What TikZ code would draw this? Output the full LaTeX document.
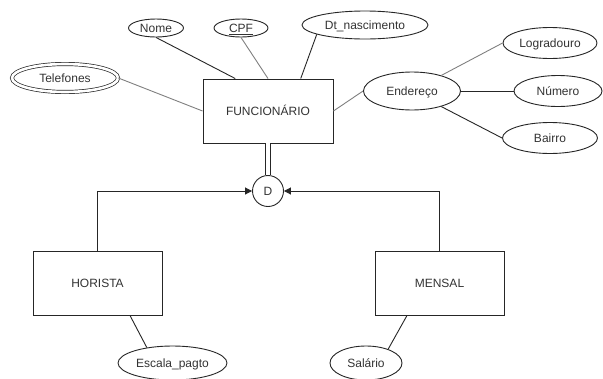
\documentclass[tikz,border=0pt]{standalone}
\usepackage{fontspec}
\setmainfont{Liberation Sans}
\usetikzlibrary{shapes.geometric,arrows.meta,calc}
\begin{document}
\begin{tikzpicture}[x=1pt,y=-1pt,
  font=\fontsize{12}{14}\selectfont,
  every node/.style={text=black!80,text height=8.6pt,text depth=0pt,inner sep=0pt},
  entity/.style={draw=black!85,line width=0.9pt,fill=white,minimum width=129pt,minimum height=64pt},
  attr/.style={ellipse,draw=black!85,line width=0.9pt,fill=white},
  multiattr/.style={ellipse,draw=black!85,line width=0.7pt,double,double distance=2.6pt,fill=white},
  disj/.style={circle,draw=black!85,line width=0.9pt,fill=white,minimum size=31pt},
  link/.style={draw=black!85,line width=0.9pt},
  faint/.style={draw=black!50,line width=0.9pt},
  isa/.style={link,-{Triangle[length=7pt,width=7pt]}},
  total/.style={draw=black!85,line width=0.8pt,double,double distance=3.5pt}
]
\fill[white] (0,0) rectangle (603,378);
\useasboundingbox (0,0) rectangle (603,378);

% entities
\node[entity,minimum width=130pt] (func) at (268,111) {FUNCIONÁRIO};
\node[entity] (hor) at (97.5,283) {HORISTA};
\node[entity] (men) at (439.5,283) {MENSAL};

% attributes of FUNCIONARIO
\node[attr,minimum width=55pt,minimum height=18pt] (nome) at (156,28) {Nome};
\node[attr,minimum width=54pt,minimum height=18pt] (cpf) at (241,28) {\underline{CPF}};
\node[attr,minimum width=126pt,minimum height=28pt] (dt) at (365,25) {Dt\_nascimento};
\node[multiattr,minimum width=106pt,minimum height=28pt] (tel) at (65,78) {Telefones};
\node[attr,minimum width=97pt,minimum height=38pt] (ender) at (412,91) {Endereço};

% components of Endereco
\node[attr,minimum width=94pt,minimum height=31pt] (logr) at (550,43) {Logradouro};
\node[attr,minimum width=88pt,minimum height=31pt] (num) at (558,91) {Número};
\node[attr,minimum width=95pt,minimum height=31pt] (bai) at (550,138) {Bairro};

% specialisation
\node[disj] (d) at (268,191) {D};

% attributes of the subclasses
\node[attr,minimum width=109pt,minimum height=34pt] (esc) at (172.5,363) {Escala\_pagto};
\node[attr,minimum width=72pt,minimum height=34pt] (sal) at (366,363) {Salário};

% connectors
\draw[link] (nome.south) -- ($(func.north west)!0.25!(func.north east)$);
\draw[faint] (cpf.south) -- (func.north);
\draw[link] (dt.191) -- ($(func.north west)!0.75!(func.north east)$);
\draw[faint] (tel.east) -- (func.west);
\draw[faint] (func.east) -- (ender.west);
\draw[faint] (ender.28) -- (logr.west);
\draw[link] (ender.east) -- (num.west);
\draw[link] (ender.-28) -- (bai.west);

\draw[total] (func.south) -- (d.north);
\draw[isa] (hor.north) |- (d.west);
\draw[isa] (men.north) |- (d.east);

\draw[link] ($(hor.south west)!0.75!(hor.south east)$) -- (esc.149);
\draw[link] ($(men.south west)!0.25!(men.south east)$) -- (sal.32);
\end{tikzpicture}
\end{document}
